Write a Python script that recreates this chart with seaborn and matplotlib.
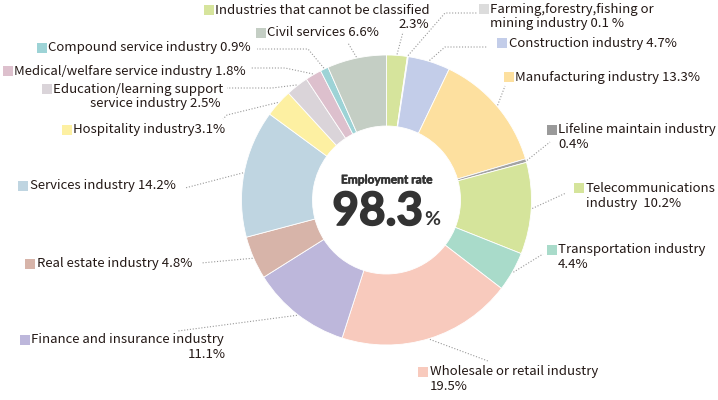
import numpy as np
import seaborn as sns
import matplotlib.pyplot as plt
import matplotlib.patheffects as pe
from matplotlib.patches import Rectangle

# data
labels = [
    'Industries that cannot be classified\n2.3%',
    'Farming,forestry,fishing or\nmining industry 0.1 %',
    'Construction industry 4.7%',
    'Manufacturing industry 13.3%',
    'Lifeline maintain industry\n0.4%',
    'Telecommunications\nindustry  10.2%',
    'Transportation industry\n4.4%',
    'Wholesale or retail industry\n19.5%',
    'Finance and insurance industry\n11.1%',
    'Real estate industry 4.8%',
    'Services industry 14.2%',
    'Hospitality industry3.1%',
    'Education/learning support\nservice industry 2.5%',
    'Medical/welfare service industry 1.8%',
    'Compound service industry 0.9%',
    'Civil services 6.6%',
]
shares = [2.3, 0.1, 4.7, 13.3, 0.4, 10.2, 4.4, 19.5, 11.1, 4.8, 14.2, 3.1, 2.5, 1.8, 0.9, 6.6]
colors = ['#d6e49c', '#dcdcdc', '#c3cde9', '#fde09f', '#a3a3a3', '#d5e49b', '#a9dbca', '#f8cabd',
          '#bdb7db', '#d7b4a9', '#bfd5e1', '#fdf0a2', '#dad4d9', '#ddc0cd', '#9dd3d6', '#c4cec4']
marker_colors = colors[:4] + ['#9a9a9a'] + colors[5:]
center_title = 'Employment rate'
center_value = '98.3'

# layout in pixel coords (y measured from top)
layout = [
    dict(box=(209, 10), lines=[(215, 10, 'left'), (429, 25, 'right')], path=[(403, 32)]),
    dict(box=(484, 9), lines=[(490, 9, 'left'), (490, 24, 'left')], path=[(445, 13), (477, 13)]),
    dict(box=(502, 43), lines=[(509, 43, 'left')], path=[(445, 47), (487, 47)]),
    dict(box=(509, 77), lines=[(515, 77, 'left')], path=[(505, 86)]),
    dict(box=(552, 130), lines=[(558, 130, 'left'), (558, 145, 'left')], path=[(550, 142)]),
    dict(box=(579, 188), lines=[(586, 188, 'left'), (586, 203, 'left')], path=[(566, 193)]),
    dict(box=(552, 250), lines=[(558, 250, 'left'), (558, 265, 'left')], path=[(543, 254)]),
    dict(box=(423, 372), lines=[(430, 372, 'left'), (430, 387, 'left')], path=[(488, 361)]),
    dict(box=(25, 340), lines=[(31, 340, 'left'), (226, 355, 'right')], path=[(178, 331)]),
    dict(box=(30, 264), lines=[(37, 264, 'left')], path=[(201, 263)]),
    dict(box=(23, 186), lines=[(30, 186, 'left')], path=[(185, 188)]),
    dict(box=(67, 130), lines=[(73, 130, 'left')], path=[(227, 115), (223, 119)]),
    dict(box=(47, 89), lines=[(53, 89, 'left'), (221, 104, 'right')], path=[(272, 88), (227, 88)]),
    dict(box=(8, 71), lines=[(14, 71, 'left')], path=[(285, 68), (250, 68)]),
    dict(box=(42, 48), lines=[(48, 48, 'left')], path=[(308, 49), (257, 49)]),
    dict(box=(261, 33), lines=[(267, 33, 'left')], path=[(348, 43)]),
]

W, H = 718, 400
cx, cy = 386.5, 200
r_out, r_in = 145, 74

sns.set_theme(style='white')
plt.rcParams['font.family'] = ['Noto Sans CJK JP', 'DejaVu Sans']

fig = plt.figure(figsize=(W / 100, H / 100), dpi=100)
ax = fig.add_axes([0, 0, 1, 1])

ax.pie(
    shares,
    colors=colors,
    startangle=90,
    counterclock=False,
    radius=r_out,
    center=(cx, H - cy),
    wedgeprops=dict(width=r_out - r_in, edgecolor='white', linewidth=0.6),
)

# leader lines and labels
cum = np.cumsum(shares) - np.array(shares) / 2
total = sum(shares)
for i, lab in enumerate(labels):
    ang = np.deg2rad(90 - 360 * cum[i] / total)
    ax_x = cx + (r_out + 1) * np.cos(ang)
    ax_y = (H - cy) + (r_out + 1) * np.sin(ang)
    lay = layout[i]
    xs = [ax_x] + [p[0] for p in lay['path']]
    ys = [ax_y] + [H - p[1] for p in lay['path']]
    ax.plot(xs, ys, color='#999999', linewidth=0.8, linestyle=(0, (1, 1.6)))

    bx, by = lay['box']
    ax.add_patch(Rectangle((bx - 5, H - by - 5), 10, 10, color=marker_colors[i], lw=0))
    for text, (tx, ty, ha) in zip(lab.split('\n'), lay['lines']):
        ax.text(tx, H - ty, text, ha=ha, va='center', fontsize=9.5, color='#231815')

# center text
num_font = ['Lato', 'DejaVu Sans']
thick = [pe.withStroke(linewidth=1.2, foreground='#333333')]
ax.text(cx, H - 180, center_title, ha='center', va='center', fontsize=8.6,
        fontweight='bold', color='#333333', family=num_font,
        path_effects=[pe.withStroke(linewidth=0.4, foreground='#333333')])
ax.text(423, H - 225, center_value, ha='right', va='baseline', fontsize=33,
        fontweight='bold', color='#333333', family=num_font, path_effects=thick)
ax.text(424, H - 225, '%', ha='left', va='baseline', fontsize=14,
        fontweight='bold', color='#333333', family=num_font)

ax.set_xlim(0, W)
ax.set_ylim(0, H)
ax.set_aspect('equal')
ax.axis('off')

fig.savefig('out.png', dpi=100)
